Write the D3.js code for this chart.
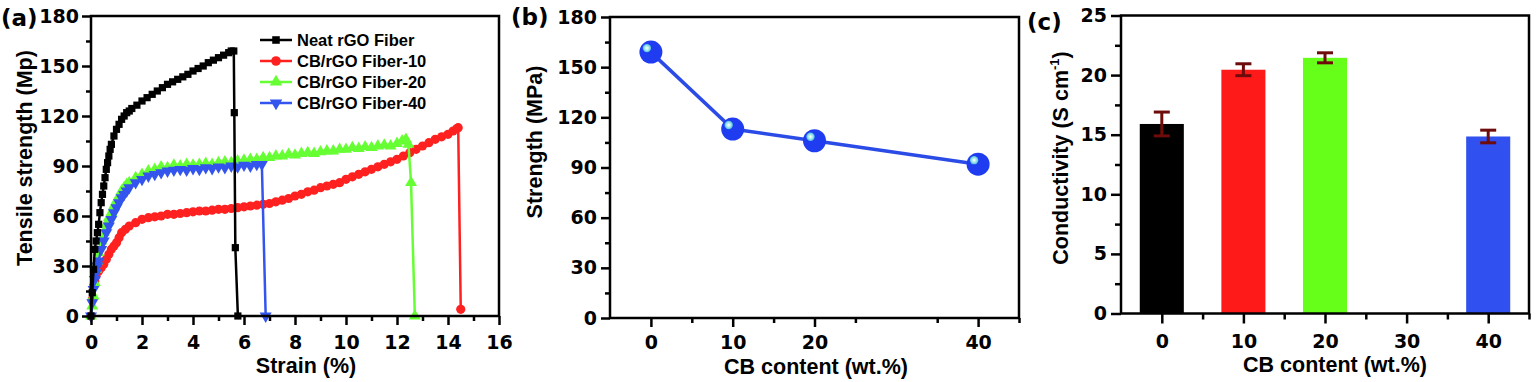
<!DOCTYPE html>
<html><head><meta charset="utf-8">
<script src="https://cdn.jsdelivr.net/npm/d3@7"></script>
<style>
body{margin:0;background:#fff;}
svg{display:block;background:#fff;}
.tick text{font-family:"DejaVu Sans";font-weight:bold;font-size:19px;fill:#000;}
.title{font-family:"Liberation Sans",Arial,sans-serif;font-weight:bold;font-size:21.5px;fill:#000;}
.legend{font-family:"Liberation Sans",Arial,sans-serif;font-weight:bold;font-size:16.5px;fill:#000;}
.plabel{font-family:"DejaVu Sans";font-weight:bold;font-size:23px;fill:#000;}
</style></head><body>
<svg id="chart" width="1536" height="382"></svg>
<script>
// ---------- Panel (a): stress-strain curves ----------
const seriesNames = ["Neat rGO Fiber", "CB/rGO Fiber-10", "CB/rGO Fiber-20", "CB/rGO Fiber-40"];
const seriesColors = ["#000000", "#ff2020", "#66ff33", "#3355ee"];

const neatX = [0,0.05,0.1,0.15,0.2,0.25,0.3,0.35,0.4,0.45,0.5,0.55,0.6,0.65,0.7,0.75,0.8,0.9,1.0,1.1,1.2,1.3,1.4,1.5,1.6,1.8,2.0,2.2,2.4,2.6,2.8,3.0,3.2,3.4,3.6,3.8,4.0,4.2,4.4,4.6,4.8,5.0,5.2,5.4,5.5,5.6,5.62,5.66,5.76];
const neatY = [0,14,28,40,45,50,55,62,68,73,78,83,88,92,96,100,103,108,112,115,118,120,122,123,124.5,126.5,129,131,133,135,137,139,140.5,142,143.5,145,147,148.5,150,152,153.5,155,156.5,158,159,159,122,41,0];

const cb10X = [0,0.05,0.1,0.15,0.2,0.3,0.4,0.5,0.6,0.7,0.8,0.9,1.0,1.1,1.2,1.35,1.5,1.75,2.0,2.25,2.5,2.75,3.0,3.25,3.5,3.75,4.0,4.25,4.5,4.75,5.0,5.25,5.5,5.75,6.0,6.25,6.5,6.75,7.0,7.25,7.5,7.75,8.0,8.25,8.5,8.75,9.0,9.25,9.5,9.75,10.0,10.25,10.5,10.75,11.0,11.25,11.5,11.75,12.0,12.25,12.5,12.75,13.0,13.25,13.5,13.75,14.0,14.2,14.35,14.4,14.5];
const cb10Y = [0,10,18,21,24,27,29,31,34,37,40,42,44,47,50,52,54,56,58,59,59.5,60,61,61,61.5,62,62.5,63,63,63.5,64,64,64.5,65,65.5,66,66.5,67,67.5,68.5,69.5,70.5,72,73,74.5,75.5,77,78,79,80,82,83.5,85,86.5,88,89.5,91,92.5,94,96,98,100,102,104,106,107.5,109,111,112.5,113,4];

const cb20X = [0,0.05,0.1,0.15,0.2,0.25,0.3,0.4,0.5,0.6,0.7,0.8,0.9,1.0,1.1,1.2,1.3,1.4,1.5,1.75,2.0,2.25,2.5,2.75,3.0,3.25,3.5,3.75,4.0,4.25,4.5,4.75,5.0,5.25,5.5,5.75,6.0,6.25,6.5,6.75,7.0,7.25,7.5,7.75,8.0,8.25,8.5,8.75,9.0,9.25,9.5,9.75,10.0,10.25,10.5,10.75,11.0,11.25,11.5,11.75,12.0,12.2,12.35,12.45,12.55,12.7];
const cb20Y = [0,6,12,20,28,33,38,45,50,55,59,62,66,69,72,75,77,79,80,83,85,87,88,89.5,89,90.5,90,91,90.5,91,91.5,91,92,92.5,92,93,93.5,94,94,95,95,96,96,97,96.5,97.5,98,97.5,98.5,99,99,100,100,101,100.5,101.5,101,102,102.5,102,103.5,105,106,103,80,0];

const cb40X = [0,0.05,0.1,0.15,0.2,0.25,0.3,0.4,0.5,0.6,0.7,0.8,0.9,1.0,1.1,1.2,1.3,1.4,1.5,1.75,2.0,2.25,2.5,2.75,3.0,3.25,3.5,3.75,4.0,4.25,4.5,4.75,5.0,5.25,5.5,5.75,6.0,6.25,6.5,6.7,6.85];
const cb40Y = [0,8,16,22,26,30,33,40,45,50,54,58,62,65,68,71,73,75,77,80,82,84,85,86,87,87.5,88,87.5,88.5,88,89,88.5,89.5,89,90,89.5,90.5,90,91,91,0];

const strainTicks = [0,2,4,6,8,10,12,14,16];
const strainMinor = [1,3,5,7,9,11,13,15];
const stressTicks = [0,30,60,90,120,150,180];
const stressMinor = [15,45,75,105,135,165];

// ---------- Panel (b): strength vs CB content ----------
const cbContent = [0,10,20,40];
const strengthVals = [159,113,106,92];
const contentTicksB = [0,10,20,40];
const contentMinorB = [5,15,25,35,45];

// ---------- Panel (c): conductivity ----------
const condVals = [15.9,20.45,21.45,14.85];
const condErr = [1.0,0.5,0.42,0.53];
const barColors = ["#000000","#ff1a1a","#66ff1a","#3050f0"];
const contentTicksC = [0,10,20,30,40];
const contentMinorC = [5,15,25,35,45];
const condTicks = [0,5,10,15,20,25];
const condMinor = [2.5,7.5,12.5,17.5,22.5];

const svg = d3.select("#chart");

function drawAxes(g, x, y, o) {
  const [x0,x1] = x.range(), [y0,y1] = y.range();
  const bx = g.append("g").attr("transform",`translate(0,${y0})`)
    .call(d3.axisBottom(x).tickValues(o.xMajor).tickSize(o.majorLen).tickPadding(o.xPad).tickFormat(d3.format("d")));
  const bxm = g.append("g").attr("transform",`translate(0,${y0})`)
    .call(d3.axisBottom(x).tickValues(o.xMinor).tickSize(o.minorLen).tickFormat(""));
  const ly = g.append("g").attr("transform",`translate(${x0},0)`)
    .call(d3.axisLeft(y).tickValues(o.yMajor).tickSize(o.majorLen).tickPadding(o.yPad).tickFormat(d3.format("d")));
  const lym = g.append("g").attr("transform",`translate(${x0},0)`)
    .call(d3.axisLeft(y).tickValues(o.yMinor).tickSize(o.minorLen).tickFormat(""));
  [bx,bxm,ly,lym].forEach(a=>{
    a.select(".domain").remove();
    a.selectAll(".tick line").attr("stroke","#000").attr("stroke-width",2.5);
  });
  g.append("rect").attr("x",x0).attr("y",y1).attr("width",x1-x0).attr("height",y0-y1)
    .attr("fill","none").attr("stroke","#000").attr("stroke-width",2.5);
}

// ===== Panel A =====
const gA = svg.append("g");
const xa = d3.scaleLinear().domain([0,16]).range([91,499]);
const ya = d3.scaleLinear().domain([0,180]).range([316,16]);

const symTypes = [d3.symbolSquare, d3.symbolCircle, d3.symbolTriangle, d3.symbolTriangle];
const symSizes = [52, 66, 62, 62];
const symRot = [0,0,0,180];
const allX = [neatX, cb10X, cb20X, cb40X];
const allY = [neatY, cb10Y, cb20Y, cb40Y];
const lineGen = d3.line().x(d=>xa(d[0])).y(d=>ya(d[1]));
const drawOrder = [1,2,3,0];
const curves = gA.append("g");
drawOrder.forEach(i=>{
  const pts = allX[i].map((v,k)=>[v, allY[i][k]]);
  const s = curves.append("g");
  s.append("path").datum(pts).attr("d",lineGen).attr("fill","none")
    .attr("stroke",seriesColors[i]).attr("stroke-width",2.5);
  s.selectAll("path.m").data(pts).join("path").attr("class","m")
    .attr("d", d3.symbol().type(symTypes[i]).size(symSizes[i]))
    .attr("transform", d=>`translate(${xa(d[0])},${ya(d[1])}) rotate(${symRot[i]})`)
    .attr("fill",seriesColors[i]);
});
drawAxes(gA, xa, ya, {xMajor:strainTicks, xMinor:strainMinor, yMajor:stressTicks, yMinor:stressMinor,
  majorLen:9, minorLen:5, xPad:11, yPad:3});

// legend
const leg = gA.append("g");
seriesNames.forEach((n,i)=>{
  const yy = 40 + i*21;
  leg.append("line").attr("x1",260).attr("x2",292).attr("y1",yy).attr("y2",yy)
    .attr("stroke",seriesColors[i]).attr("stroke-width",2.5);
  leg.append("path").attr("d", d3.symbol().type(symTypes[i]).size(symSizes[i]*1.1))
    .attr("transform",`translate(276,${yy}) rotate(${symRot[i]})`).attr("fill",seriesColors[i]);
  leg.append("text").attr("class","legend").attr("x",297).attr("y",yy).attr("dy","0.36em").text(n);
});
gA.append("text").attr("class","title").attr("x",306).attr("y",373).attr("text-anchor","middle").text("Strain (%)");
gA.append("text").attr("class","title").attr("text-anchor","middle")
  .attr("transform","translate(32,158) rotate(-90)").text("Tensile strength (Mp)");
gA.append("text").attr("class","plabel").attr("x",1).attr("y",26).text("(a)");

// ===== Panel B =====
const gB = svg.append("g");
const xb = d3.scaleLinear().domain([-5,45]).range([610,1019]);
const yb = d3.scaleLinear().domain([0,180]).range([318,17]);
drawAxes(gB, xb, yb, {xMajor:contentTicksB, xMinor:contentMinorB, yMajor:stressTicks, yMinor:stressMinor,
  majorLen:9, minorLen:5, xPad:9, yPad:4});
const defs = svg.append("defs");
const rg = defs.append("radialGradient").attr("id","hl");
rg.append("stop").attr("offset","0%").attr("stop-color","#ffffff");
rg.append("stop").attr("offset","55%").attr("stop-color","#9fe8e8");
rg.append("stop").attr("offset","100%").attr("stop-color","#4fb8e0");
const ptsB = cbContent.map((c,i)=>[c,strengthVals[i]]);
gB.append("path").datum(ptsB).attr("d", d3.line().x(d=>xb(d[0])).y(d=>yb(d[1])))
  .attr("fill","none").attr("stroke","#2b4be6").attr("stroke-width",3.5);
const mk = gB.selectAll("g.pt").data(ptsB).join("g").attr("class","pt")
  .attr("transform",d=>`translate(${xb(d[0])},${yb(d[1])})`);
mk.append("circle").attr("r",11.5).attr("fill","#1f3cf0");
mk.append("circle").attr("cx",-4).attr("cy",-4).attr("r",4.2).attr("fill","url(#hl)");
gB.append("text").attr("class","title").attr("x",816).attr("y",374).attr("text-anchor","middle").text("CB content (wt.%)");
gB.append("text").attr("class","title").attr("text-anchor","middle")
  .attr("transform","translate(542,142) rotate(-90)").text("Strength (MPa)");
gB.append("text").attr("class","plabel").attr("x",511).attr("y",25).text("(b)");

// ===== Panel C =====
const gC = svg.append("g");
const xc = d3.scaleLinear().domain([-5,45]).range([1121,1529]);
const yc = d3.scaleLinear().domain([0,25]).range([313.5,15.5]);
const bw = 5.4;
gC.selectAll("rect.bar").data(cbContent).join("rect").attr("class","bar")
  .attr("x",d=>xc(d-bw/2)).attr("width",xc(bw)-xc(0))
  .attr("y",(d,i)=>yc(condVals[i])).attr("height",(d,i)=>yc(0)-yc(condVals[i]))
  .attr("fill",(d,i)=>barColors[i]);
const eb = gC.selectAll("g.err").data(cbContent).join("g").attr("class","err");
eb.append("line").attr("x1",d=>xc(d)).attr("x2",d=>xc(d))
  .attr("y1",(d,i)=>yc(condVals[i]-condErr[i])).attr("y2",(d,i)=>yc(condVals[i]+condErr[i]))
  .attr("stroke","#6e0b0b").attr("stroke-width",3);
[-1,1].forEach(s=>{
  eb.append("line").attr("x1",d=>xc(d)-8).attr("x2",d=>xc(d)+8)
    .attr("y1",(d,i)=>yc(condVals[i]+s*condErr[i])).attr("y2",(d,i)=>yc(condVals[i]+s*condErr[i]))
    .attr("stroke","#6e0b0b").attr("stroke-width",3);
});
drawAxes(gC, xc, yc, {xMajor:contentTicksC, xMinor:contentMinorC, yMajor:condTicks, yMinor:condMinor,
  majorLen:10, minorLen:6, xPad:11, yPad:4});
gC.append("text").attr("class","title").attr("x",1335).attr("y",372).attr("text-anchor","middle").text("CB content (wt.%)");
const ct = gC.append("text").attr("class","title").attr("text-anchor","middle")
  .attr("transform","translate(1068,158) rotate(-90)");
ct.append("tspan").text("Conductivity (S cm");
ct.append("tspan").attr("font-size","13px").attr("dy","-9").text("-1");
ct.append("tspan").attr("dy","9").text(")");
gC.append("text").attr("class","plabel").attr("x",1027).attr("y",30).text("(c)");
</script>
</body></html>
